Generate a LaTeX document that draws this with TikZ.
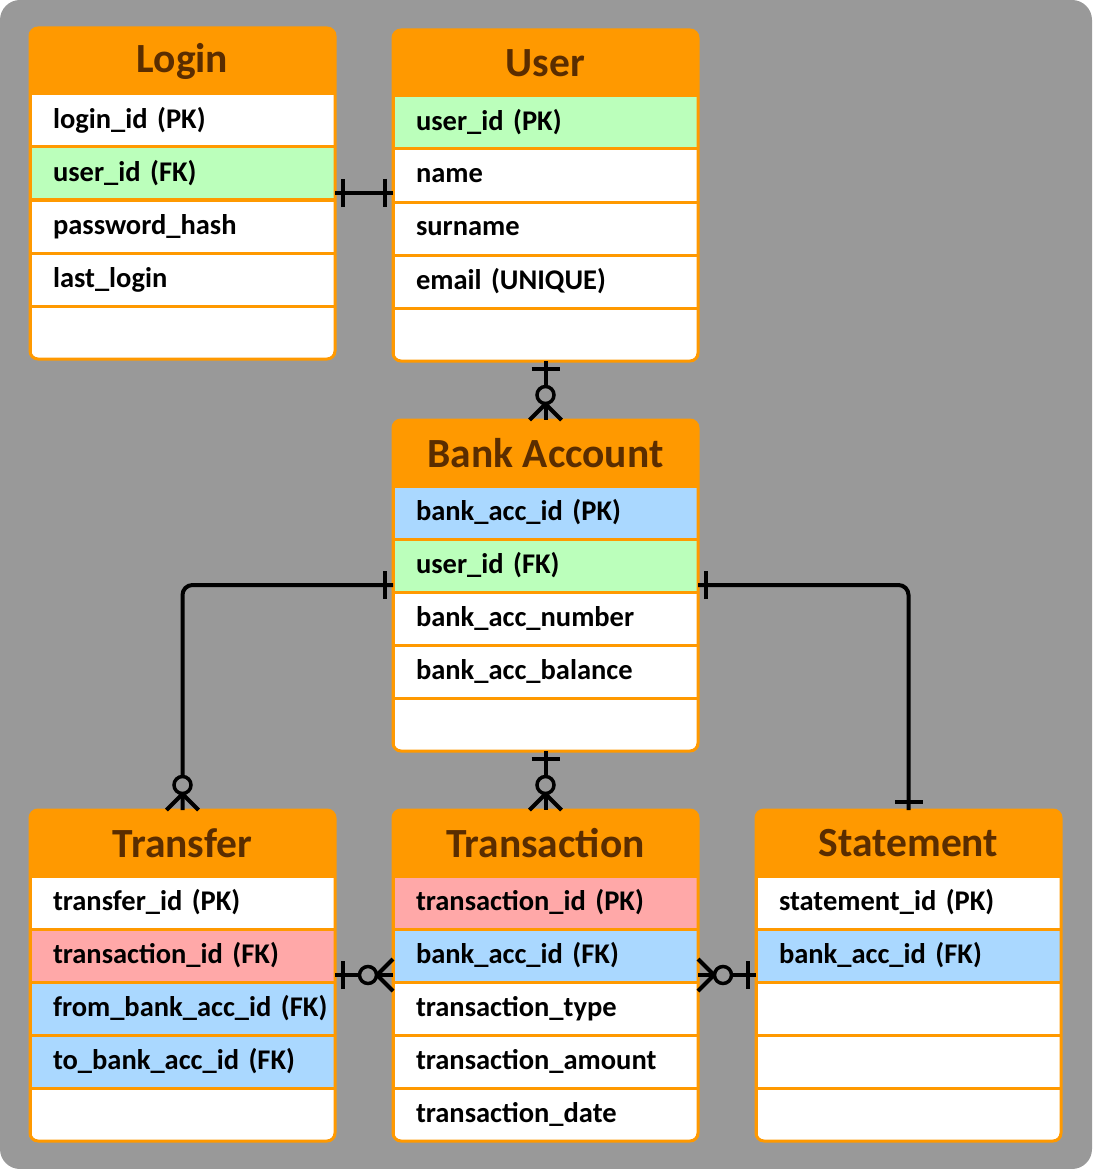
\documentclass[tikz,border=0pt]{standalone}
\usepackage{fontspec}
\setmainfont{Carlito}
\usetikzlibrary{calc}

\definecolor{bggray}{HTML}{999999}
\definecolor{hdrorange}{HTML}{FF9900}
\definecolor{titlebrown}{HTML}{5A2D00}
\definecolor{pkgreen}{HTML}{BBFFBB}
\definecolor{fkblue}{HTML}{AAD8FF}
\definecolor{txred}{HTML}{FFA8A8}

\tikzset{
	hdr/.style={fill=hdrorange, draw=hdrorange, line width=3pt, outer sep=0pt, inner sep=0pt,
		minimum width=305pt, minimum height=66pt, anchor=north west,
		text=titlebrown, font=\fontsize{41.5}{41.5}\selectfont\bfseries},
	row/.style={draw=hdrorange, line width=3pt, outer sep=0pt, inner xsep=23pt, inner ysep=0pt,
		text width=259pt, minimum height=53pt, align=left, anchor=north west,
		font=\fontsize{28.5}{28.5}\selectfont\bfseries},
	tblborder/.style={draw=hdrorange, line width=3pt, rounded corners=8pt},
	rel/.style={draw=black, line width=4pt},
	onebar/.pic={\draw[rel] (-8,-14) -- (-8,14);},
	zeromany/.pic={
		\draw[rel] (-16,0) -- (0,-16);
		\draw[rel] (-16,0) -- (0,16);
		\draw[black, line width=3.5pt, fill=bggray] (-25,0) circle (8.5pt);
	}
}

\begin{document}
\begin{tikzpicture}[x=1pt, y=-1pt]
		\fill[bggray, rounded corners=20pt] (0,0) rectangle (1092,1169);
		\useasboundingbox (0,0) rectangle (1092,1169);

		% Login
		\begin{scope}
			\clip[rounded corners=8pt] (30,28) rectangle (335,359);
			\node[hdr] (login-h) at (30,28) {Login};
			\foreach \txt/\col [count=\i] in {{login\_id (PK)}/white, {user\_id (FK)}/pkgreen,
				{password\_hash}/white, {last\_login}/white, {}/white}
				\node[row, fill=\col] (login-\i) at (30,{94+(\i-1)*53}) {\mbox{\txt}};
		\end{scope}
		\draw[tblborder] (30,28) rectangle (335,359);

		% User
		\begin{scope}
			\clip[rounded corners=8pt] (393,30) rectangle (698,361);
			\node[hdr] (user-h) at (393,30) {User};
			\foreach \txt/\col [count=\i] in {{user\_id (PK)}/pkgreen, {name}/white,
				{surname}/white, {email (UNIQUE)}/white, {}/white}
				\node[row, fill=\col] (user-\i) at (393,{96+(\i-1)*53}) {\mbox{\txt}};
		\end{scope}
		\draw[tblborder] (393,30) rectangle (698,361);

		% Bank Account
		\begin{scope}
			\clip[rounded corners=8pt] (393,420) rectangle (698,751);
			\node[hdr] (bank-h) at (393,420) {Bank Account};
			\foreach \txt/\col [count=\i] in {{bank\_acc\_id (PK)}/fkblue, {user\_id (FK)}/pkgreen,
				{bank\_acc\_number}/white, {bank\_acc\_balance}/white, {}/white}
				\node[row, fill=\col] (bank-\i) at (393,{486+(\i-1)*53}) {\mbox{\txt}};
		\end{scope}
		\draw[tblborder] (393,420) rectangle (698,751);

		% Transfer
		\begin{scope}
			\clip[rounded corners=8pt] (30,810) rectangle (335,1141);
			\node[hdr] (transfer-h) at (30,810) {Transfer};
			\foreach \txt/\col [count=\i] in {{transfer\_id (PK)}/white, {transaction\_id (FK)}/txred,
				{from\_bank\_acc\_id (FK)}/fkblue, {to\_bank\_acc\_id (FK)}/fkblue, {}/white}
				\node[row, fill=\col] (transfer-\i) at (30,{876+(\i-1)*53}) {\mbox{\txt}};
		\end{scope}
		\draw[tblborder] (30,810) rectangle (335,1141);

		% Transaction
		\begin{scope}
			\clip[rounded corners=8pt] (393,810) rectangle (698,1141);
			\node[hdr] (transaction-h) at (393,810) {Transaction};
			\foreach \txt/\col [count=\i] in {{transaction\_id (PK)}/txred, {bank\_acc\_id (FK)}/fkblue,
				{transaction\_type}/white, {transaction\_amount}/white, {transaction\_date}/white}
				\node[row, fill=\col] (transaction-\i) at (393,{876+(\i-1)*53}) {\mbox{\txt}};
		\end{scope}
		\draw[tblborder] (393,810) rectangle (698,1141);

		% Statement
		\begin{scope}
			\clip[rounded corners=8pt] (756,810) rectangle (1061,1141);
			\node[hdr] (statement-h) at (756,810) {Statement};
			\foreach \txt/\col [count=\i] in {{statement\_id (PK)}/white, {bank\_acc\_id (FK)}/fkblue,
				{}/white, {}/white, {}/white}
				\node[row, fill=\col] (statement-\i) at (756,{876+(\i-1)*53}) {\mbox{\txt}};
		\end{scope}
		\draw[tblborder] (756,810) rectangle (1061,1141);

		% relations
		\coordinate (lu-a) at ([yshift=7pt]login-2.south east);
		\coordinate (lu-b) at (lu-a -| user-2.west);
		\draw[rel] (lu-a) -- (lu-b);
		\pic[rotate=180] at (lu-a) {onebar};
		\pic at (lu-b) {onebar};

		\draw[rel] (user-5.south) -- (bank-h.north);
		\pic[rotate=90] at (user-5.south) {onebar};
		\pic[rotate=-90] at (bank-h.north) {zeromany};

		\coordinate (bt-a) at ([yshift=7pt]bank-2.south west);
		\draw[rel, rounded corners=10pt] (bt-a) -| (transfer-h.north);
		\pic at (bt-a) {onebar};
		\pic[rotate=-90] at (transfer-h.north) {zeromany};

		\coordinate (bs-a) at ([yshift=7pt]bank-2.south east);
		\draw[rel, rounded corners=10pt] (bs-a) -| (statement-h.north);
		\pic[rotate=180] at (bs-a) {onebar};
		\pic[rotate=-90] at (statement-h.north) {onebar};

		\draw[rel] (bank-5.south) -- (transaction-h.north);
		\pic[rotate=90] at (bank-5.south) {onebar};
		\pic[rotate=-90] at (transaction-h.north) {zeromany};

		\coordinate (tt-a) at ([yshift=7pt]transfer-2.south east);
		\coordinate (tt-b) at (tt-a -| transaction-2.west);
		\draw[rel] (tt-a) -- (tt-b);
		\pic[rotate=180] at (tt-a) {onebar};
		\pic at (tt-b) {zeromany};

		\coordinate (ts-a) at ([yshift=7pt]transaction-2.south east);
		\coordinate (ts-b) at (ts-a -| statement-2.west);
		\draw[rel] (ts-a) -- (ts-b);
		\pic[rotate=180] at (ts-a) {zeromany};
		\pic at (ts-b) {onebar};
\end{tikzpicture}
\end{document}
